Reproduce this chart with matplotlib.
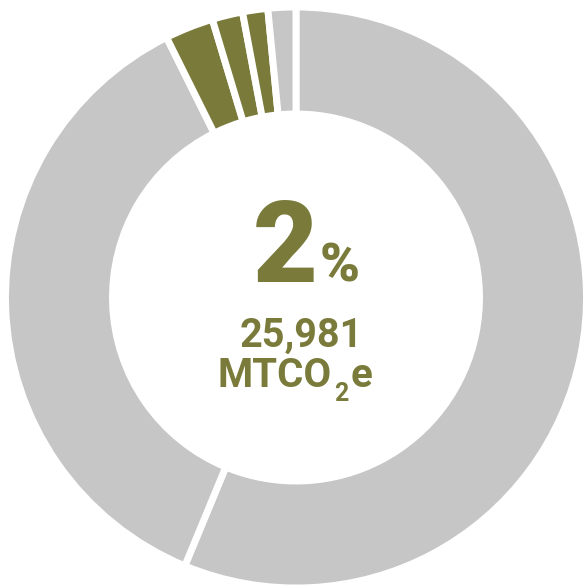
import matplotlib
matplotlib.use("Agg")
import matplotlib.pyplot as plt

# slice shares (percent), clockwise from 12 o'clock
labels = ["other A", "other B", "sector 3", "sector 2", "sector 1", "other C"]
shares = [56.25, 36.4, 2.7, 1.7, 1.4, 1.55]
colors = ["#c6c6c6", "#c6c6c6", "#7a7b3b", "#7a7b3b", "#7a7b3b", "#c6c6c6"]

headline = "2"
headline_unit = "%"
total_value = "25,981"
unit_parts = ["MTCO", "2", "e"]  # CO2 with a subscript 2

OLIVE = "#7a7b3b"
W, H = 584, 588

fig = plt.figure(figsize=(W / 100, H / 100), dpi=100)
ax = fig.add_axes([0, 0, 1, 1])

cx, cy = 296, H - 297.5
gap = 5  # points, white separator
ax.pie(shares, colors=colors, startangle=90, counterclock=False,
       center=(cx, cy), radius=290.5,
       wedgeprops=dict(width=107, edgecolor="white", linewidth=gap))

ax.set_xlim(0, W)
ax.set_ylim(0, H)
ax.set_aspect("equal")
ax.axis("off")

big = dict(color=OLIVE, family=["Roboto", "DejaVu Sans"], fontweight="black")
lab = dict(color=OLIVE, family=["Roboto", "DejaVu Sans"], fontweight="bold")

ax.text(318, H - 282, headline, ha="right", va="baseline", fontsize=81, **big)
ax.text(320, H - 282, headline_unit, ha="left", va="baseline", fontsize=39, **big)
ax.text(301, H - 347, total_value, ha="center", va="baseline", fontsize=28.5, **lab)

# unit line built from pieces so the 2 can drop below the baseline
t1 = ax.text(0, H - 387, unit_parts[0], ha="left", va="baseline", fontsize=29, **lab)
t2 = ax.text(0, H - 401, unit_parts[1], ha="left", va="baseline", fontsize=18, **lab)
t3 = ax.text(0, H - 387, unit_parts[2], ha="left", va="baseline", fontsize=29, **lab)
fig.canvas.draw()
r = fig.canvas.get_renderer()
w1 = t1.get_window_extent(r).width
w2 = t2.get_window_extent(r).width
w3 = t3.get_window_extent(r).width
x0 = 295 - (w1 + w2 + w3 + 4) / 2
t1.set_x(x0)
t2.set_x(x0 + w1 + 2)
t3.set_x(x0 + w1 + w2 + 4)

fig.savefig("out.png", dpi=100, facecolor="white")
